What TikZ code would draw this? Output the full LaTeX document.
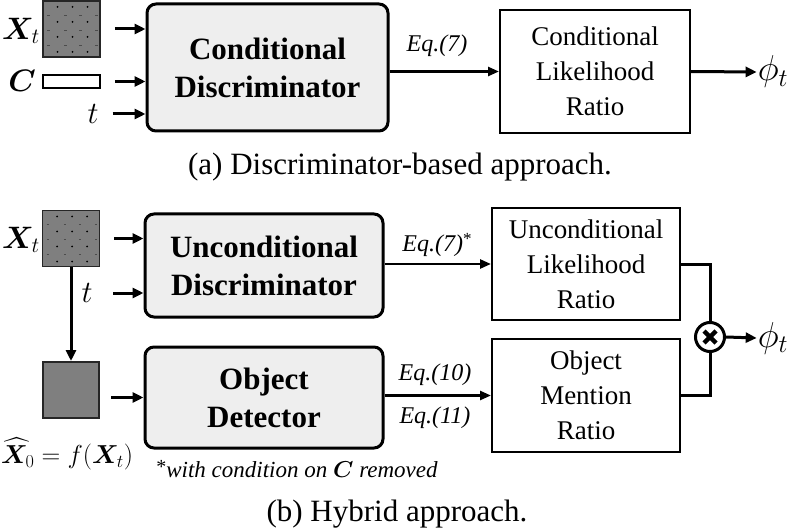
\RequirePackage{fix-cm}
\documentclass[tikz,border=0pt]{standalone}
\usepackage{amsmath}
\usepackage{bm}
\usepackage{fontspec}
\setmainfont{Liberation Serif}
\usetikzlibrary{arrows.meta}
\definecolor{boxgray}{HTML}{EEEEEE}
\definecolor{sqgray}{HTML}{7F7F7F}
\begin{document}
\begin{tikzpicture}[x=1pt,y=-1pt,
  discbox/.style={draw, line width=3pt, rounded corners=9pt, fill=boxgray, align=center,
    font=\fontsize{31}{38}\selectfont\bfseries, inner sep=0pt},
  ratiobox/.style={draw, line width=2pt, fill=white, align=center,
    font=\fontsize{27}{35}\selectfont, inner sep=0pt},
  inarrow/.style={line width=3pt, -{Triangle[length=11pt,width=10pt]}},
  eqarrow/.style={line width=2.5pt, -{Triangle[length=11pt,width=9pt]}},
  eqlbl/.style={font=\fontsize{24}{28}\selectfont\itshape, inner sep=0pt},
  captext/.style={font=\fontsize{31}{36}\selectfont, inner sep=0pt},
  mathlbl/.style={font=\fontsize{31}{34}\selectfont, inner sep=0pt},
  noisesq/.style={draw=black!85, line width=1.5pt, fill=sqgray, minimum width=57pt,
    minimum height=56pt, inner sep=0pt},
]
\fill[white] (0,0) rectangle (796,532);
\useasboundingbox (0,0) rectangle (796,532);

% ---------- (a) ----------
\node[noisesq] (xt1) at (71.5,29) {};
\node[draw, line width=1.5pt, fill=white, minimum width=57pt, minimum height=13pt, inner sep=0pt] (cbox) at (71.5,81.5) {};
\node[mathlbl] (lxt1) at (21,31) {$\bm{X}_{t}$};
\node[mathlbl] (lc) at (22,81) {$\bm{C}$};
\node[mathlbl] (lt1) at (93,114) {$t$};

\node[discbox, minimum width=241pt, minimum height=127pt] (disc1) at (267.5,67.5) {Conditional\\Discriminator};
\node[ratiobox, minimum width=190pt, minimum height=123pt] (ratio1) at (595,71.5) {Conditional\\Likelihood\\Ratio};
\node[eqlbl] (eq7a) at (437,46) {Eq.(7)};
\node[font=\fontsize{36}{40}\selectfont, inner sep=1pt] (phi1) at (773,72) {$\phi_t$};

\draw[inarrow] ([xshift=14pt]xt1.east) -- (disc1.west |- xt1.east);
\draw[inarrow] ([xshift=14pt]cbox.east) -- (disc1.west |- cbox.east);
\draw[inarrow] ([xshift=14pt]lt1.east) -- (disc1.west |- lt1.east);
\draw[eqarrow] (disc1.east |- ratio1.west) -- (ratio1.west);
\draw[inarrow] (ratio1.east) -- (phi1.west);

\node[captext] (capa) at (400,167) {(a) Discriminator-based approach.};

% ---------- (b) ----------
\node[noisesq] (xt2) at (71,238.5) {};
\node[mathlbl] (lxt2) at (21,240) {$\bm{X}_{t}$};
\node[mathlbl] (lt2) at (87,293) {$t$};
\coordinate (t2s) at (113,293);
\node[draw=black!85, line width=2pt, fill=sqgray, minimum width=56pt, minimum height=56pt, inner sep=0pt] (xhat) at (71,390) {};
\coordinate (xhs) at (111,397.5);
\node[font=\fontsize{26}{30}\selectfont, inner sep=0pt] (lxhat) at (67,454) {$\widehat{\bm{X}}_0 = f(\bm{X}_t)$};

\node[discbox, minimum width=238pt, minimum height=103pt] (disc2) at (264,265.5) {Unconditional\\Discriminator};
\node[discbox, minimum width=238pt, minimum height=101pt] (det) at (264,397.5) {Object\\Detector};

\node[ratiobox, minimum width=188pt, minimum height=112pt] (uratio) at (586,264) {Unconditional\\Likelihood\\Ratio};
\node[ratiobox, minimum width=188pt, minimum height=113pt] (oratio) at (586,395.5) {Object\\Mention\\Ratio};

\node[eqlbl] (eq7b) at (437,245) {Eq.(7)\raisebox{7pt}{\upshape\fontsize{17}{17}\selectfont *}};
\node[eqlbl] (eq10) at (435,375) {Eq.(10)};
\node[eqlbl] (eq11) at (435,418) {Eq.(11)};

\node[circle, draw, line width=3pt, fill=white, minimum size=29pt, inner sep=0pt] (mul) at (710,337) {};
\draw[line width=4.5pt] ([shift={(-6,-6)}]mul.center) -- ([shift={(6,6)}]mul.center);
\draw[line width=4.5pt] ([shift={(-6,6)}]mul.center) -- ([shift={(6,-6)}]mul.center);
\node[font=\fontsize{36}{40}\selectfont, inner sep=1pt] (phi2) at (773,338) {$\phi_t$};

\draw[inarrow] ([xshift=14pt]xt2.east) -- (disc2.west |- xt2.east);
\draw[inarrow] (t2s) -- (disc2.west |- t2s);
\draw[inarrow] (xt2.south) -- (xhat.north);
\draw[inarrow] (xhs) -- (det.west |- xhs);
\draw[eqarrow] (disc2.east |- uratio.west) -- (uratio.west);
\draw[eqarrow] (det.east |- oratio.west) -- (oratio.west);
\draw[line width=3pt] (uratio.east) -| (mul.north);
\draw[line width=3pt] (oratio.east) -| (mul.south);
\draw[line width=3pt, -{Triangle[length=11pt,width=10pt]}] (mul.east) -- (phi2.west);

\node[font=\fontsize{23}{27}\selectfont, inner sep=0pt] (fn) at (297,469) {\raisebox{4pt}{\fontsize{20}{20}\selectfont *}\textit{with condition on} $\bm{C}$ \textit{removed}};
\node[captext] (capb) at (397,514) {(b) Hybrid approach.};

% noise dots
\foreach \sq in {xt1,xt2}{
  \foreach \dx in {-14,1,16}
    \foreach \dy in {-22,-7,8,23}
      \fill ([shift={(\dx,\dy)}]\sq.center) circle (1pt);
  \foreach \dx in {-23,-6,9,25}
    \foreach \dy in {-14,1,16}
      \draw[black!70, line width=0.8pt] ([shift={(\dx-1.2,\dy)}]\sq.center) -- ([shift={(\dx+1.2,\dy)}]\sq.center);
}
\end{tikzpicture}
\end{document}
